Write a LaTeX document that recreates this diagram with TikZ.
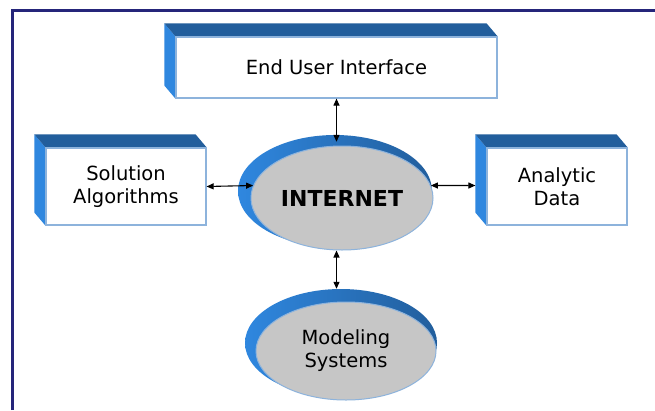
\documentclass[tikz,border=0pt]{standalone}
\usepackage{fontspec}
\setmainfont{DejaVu Sans}
\usetikzlibrary{shapes.geometric,arrows.meta,calc}
\definecolor{framenavy}{HTML}{25257A}
\definecolor{topface}{HTML}{225E9C}
\definecolor{sideface}{HTML}{2F87DF}
\definecolor{edgeblue}{HTML}{8DB3DC}
\definecolor{discgray}{HTML}{C6C6C6}
% extruded faces (left and top) of a box node, then its front outline again
\newcommand\boxdepth[1]{%
  \fill[sideface] (#1.north west) -- ++(-11,-13) -- ($(#1.south west)+(-11,-13)$) -- (#1.south west) -- cycle;
  \fill[topface] (#1.north west) -- ++(-11,-13) -- ($(#1.north east)+(-11,-13)$) -- (#1.north east) -- cycle;
  \draw[edgeblue, line width=1.2pt] (#1.north west) rectangle (#1.south east);}
\begin{document}
\begin{tikzpicture}[x=1pt,y=-1pt,
  label font/.style={font=\fontsize{19.5}{23}\selectfont},
  front/.style={rectangle, draw=edgeblue, line width=1.2pt, fill=white, inner sep=0pt, align=center, label font},
  disc/.style={ellipse, fill=discgray, draw=edgeblue, line width=1pt, inner sep=0pt, align=center, label font},
  discback/.style={ellipse, inner sep=0pt, left color=sideface, right color=topface},
  link/.style={{Triangle[length=7pt,width=6pt]}-{Triangle[length=7pt,width=6pt]}, line width=1.1pt}]
\useasboundingbox (0,0) rectangle (655,410);
\fill[white] (0,0) rectangle (655,410);
% frame
\draw[framenavy, line width=3pt] (12.5,410) -- (12.5,10.5) -- (655,10.5);

% boxes
\node[front, minimum width=321pt, minimum height=61pt] (eui) at (336.5,67.5) {End User Interface};
\boxdepth{eui}
\node[front, minimum width=160pt, minimum height=77pt] (sol) at (126,186.5) {Solution\\Algorithms};
\boxdepth{sol}
\node[front, minimum width=140pt, minimum height=77pt] (ana) at (557,186.5) {Analytic\\Data};
\boxdepth{ana}

% discs: a larger blue back disc peeking out at the upper left
\node[discback, minimum width=194pt, minimum height=112pt] (inetb) at (335,191) {};
\node[disc, minimum width=182pt, minimum height=104pt, font=\fontsize{22}{26}\selectfont\bfseries] (inet) at (342,198) {INTERNET};
\node[discback, minimum width=192pt, minimum height=108pt] (msb) at (341,343) {};
\node[disc, minimum width=180pt, minimum height=98pt] (ms) at (346,351) {Modeling\\Systems};

% connectors
\coordinate (anaside) at ($(ana.west)+(-11,-1)$);
\draw[link] (eui.south) -- ($(eui.south |- inetb.north)+(0,7)$);
\draw[link] (eui.south |- inet.south) -- (eui.south |- msb.north);
\draw[link] (sol.east) -- (inet.172);
\draw[link] (inet.8) -- (anaside);
\end{tikzpicture}
\end{document}
